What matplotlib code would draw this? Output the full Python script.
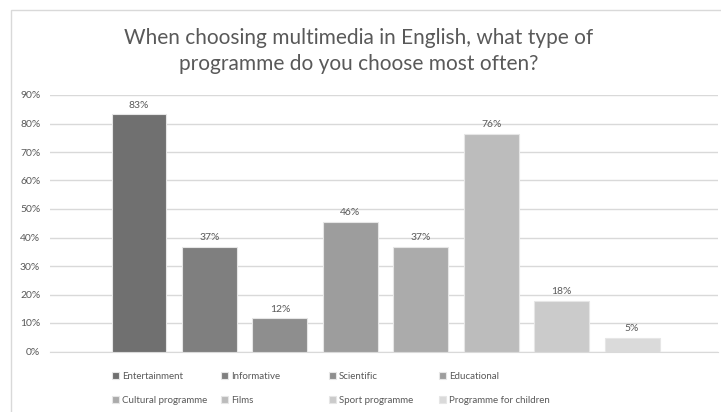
import numpy as np
import matplotlib.pyplot as plt
from matplotlib.patches import Rectangle

plt.rcParams['font.family'] = ['Lato', 'DejaVu Sans']

# 数据
series = ['Entertainment', 'Informative', 'Scientific', 'Educational',
          'Cultural programme', 'Films', 'Sport programme', 'Programme for children']
values = [0.832, 0.366, 0.116, 0.455, 0.366, 0.762, 0.176, 0.048]
colors = ['#707070', '#7f7f7f', '#8e8e8e', '#9d9d9d',
          '#ababab', '#bcbcbc', '#cbcbcb', '#dadada']
yticks = np.arange(0, 0.91, 0.1)
title = 'When choosing multimedia in English, what type of\nprogramme do you choose most often?'

txt = '#595959'
fig = plt.figure(figsize=(7.21, 4.12), dpi=100)
W, H = 721, 412
ax = fig.add_axes([50 / W, 1 - 351.5 / H, (718 - 50) / W, (351.5 - 95) / H])

# 图表外框
fig.patches.append(Rectangle((11 / W, -0.1), 1.2, 1 - 10 / H + 0.1, transform=fig.transFigure,
                             fill=False, edgecolor='#d9d9d9', linewidth=1))

x = np.arange(len(values))
bars = []
for i in range(len(values)):
    b = ax.bar(x[i], values[i], width=0.78, color=colors[i], edgecolor='#e6e6e6',
               linewidth=0.8, label=series[i], zorder=3)
    bars.append(b)
    ax.text(x[i], values[i] + 0.017, '%.0f%%' % (values[i] * 100), ha='center', va='bottom',
            fontsize=7.5, color=txt, zorder=4)

ax.set_xlim(-1.264, 8.22)
ax.set_ylim(0, 0.9)
ax.set_yticks(yticks)
ax.set_yticklabels(['%d%%' % round(v * 100) for v in yticks], fontsize=7.5, color=txt)
ax.set_xticks([])
ax.tick_params(axis='y', length=0, pad=7)
ax.grid(axis='y', color='#d9d9d9', linewidth=1, zorder=0)
for s in ['top', 'right', 'left']:
    ax.spines[s].set_visible(False)
ax.spines['bottom'].set_color('#d9d9d9')

fig.text(359 / W, 1 - 51 / H, title, ha='center', va='center', fontsize=15,
         color=txt, linespacing=1.4)

# 图例：每列两个条目
col_x = [112, 221, 329, 439]
for c in range(4):
    hs = [bars[c], bars[c + 4]]
    ls = [series[c], series[c + 4]]
    fig.legend(hs, ls, loc='upper left', bbox_to_anchor=(col_x[c] / W, 1 - 372 / H),
               frameon=False, fontsize=7, labelcolor=txt, handlelength=0.75,
               handleheight=0.75, handletextpad=0.3, borderpad=0, borderaxespad=0,
               labelspacing=1.5)

fig.savefig('out.png', dpi=100)
